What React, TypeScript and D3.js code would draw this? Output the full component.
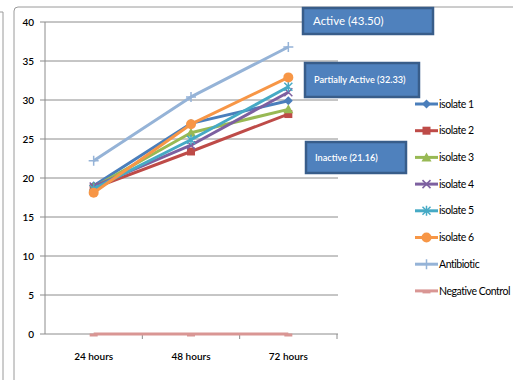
import React from "react";
import * as d3 from "d3";

const categories = ["24 hours", "48 hours", "72 hours"];
const seriesNames = ["isolate 1", "isolate 2", "isolate 3", "isolate 4", "isolate 5", "isolate 6", "Antibiotic", "Negative Control"];
const isolate1 = [19.0, 27.0, 29.9];
const isolate2 = [18.7, 23.4, 28.2];
const isolate3 = [18.8, 25.8, 28.8];
const isolate4 = [18.9, 24.2, 31.0];
const isolate5 = [18.6, 24.9, 31.7];
const isolate6 = [18.1, 26.9, 32.9];
const antibiotic = [22.2, 30.4, 36.8];
const negativeControl = [0, 0, 0];
const yTicks = [0, 5, 10, 15, 20, 25, 30, 35, 40];
const noteLabels = ["Active (43.50)", "Partially Active (32.33)", "Inactive (21.16)"];

const seriesValues = [isolate1, isolate2, isolate3, isolate4, isolate5, isolate6, antibiotic, negativeControl];
const colors = ["#4A7EBB", "#BE4B48", "#98B954", "#7D60A0", "#46AAC5", "#F79646", "#95B3D7", "#D99694"];
const markers = ["diamond", "square", "triangle", "x", "star", "circle", "plus", "dash"];

const FONT = "Lato, 'Liberation Sans', sans-serif";

function Marker({ kind, x, y, color }: { kind: string; x: number; y: number; color: string }) {
  const s = 4.5;
  switch (kind) {
    case "diamond":
      return <path d={`M${x},${y - s} L${x + s},${y} L${x},${y + s} L${x - s},${y} Z`} fill={color} />;
    case "square":
      return <rect x={x - 4} y={y - 4} width={8} height={8} fill={color} />;
    case "triangle":
      return <path d={`M${x},${y - 5} L${x + 5},${y + 4} L${x - 5},${y + 4} Z`} fill={color} />;
    case "x":
      return (
        <path d={`M${x - 4},${y - 4} L${x + 4},${y + 4} M${x - 4},${y + 4} L${x + 4},${y - 4}`} stroke={color} strokeWidth={1.5} />
      );
    case "star":
      return (
        <path
          d={`M${x - 4},${y - 4} L${x + 4},${y + 4} M${x - 4},${y + 4} L${x + 4},${y - 4} M${x},${y - 5} L${x},${y + 5}`}
          stroke={color}
          strokeWidth={1.5}
        />
      );
    case "circle":
      return <circle cx={x} cy={y} r={5} fill={color} />;
    case "plus":
      return <path d={`M${x - 5},${y} L${x + 5},${y} M${x},${y - 5} L${x},${y + 5}`} stroke={color} strokeWidth={1.5} />;
    case "dash":
      return <path d={`M${x - 4},${y + 1} L${x + 4},${y + 1}`} stroke={color} strokeWidth={3} />;
    default:
      return null;
  }
}

export default function App() {
  const W = 513;
  const H = 380;
  const left = 45;
  const right = 337;
  const top = 22;
  const bottom = 334;

  const x = d3.scaleBand<string>().domain(categories).range([left, right]);
  const y = d3.scaleLinear().domain([0, 40]).range([bottom, top]);
  const line = d3
    .line<number>()
    .x((_, i) => (x(categories[i]) as number) + x.bandwidth() / 2)
    .y((v) => y(v));

  const legendX = 415;
  const legendY0 = 104;
  const legendStep = 26.7;

  const boxes = [
    { x: 303, y: 8, w: 130, h: 26, size: 11.5, weight: 400 },
    { x: 305, y: 63, w: 114, h: 34, size: 9.2, weight: 600 },
    { x: 306, y: 142, w: 100, h: 31, size: 9.2, weight: 600 },
  ];

  return (
    <svg
      width={W}
      height={H}
      style={{ position: "absolute", left: 0, top: 0, background: "#fff" }}
      fontFamily={FONT}
    >
      {/* outer frames */}
      <path d="M0,12 L3,12 L3,380" fill="none" stroke="#9a9a9a" strokeWidth={1} />
      <path d={`M14,380 L14,11 Q14,7 18,7 L${W},7`} fill="none" stroke="#9a9a9a" strokeWidth={1} />

      {/* gridlines */}
      {yTicks.map((t) => (
        <line key={t} x1={left - 5} x2={right + 1} y1={y(t)} y2={y(t)} stroke="#8c8c8c" strokeWidth={1} />
      ))}
      {/* y axis */}
      <line x1={left} x2={left} y1={top} y2={bottom} stroke="#8c8c8c" />
      {yTicks.map((t) => (
        <text key={t} x={34} y={y(t)} dy="0.35em" textAnchor="end" fontSize={10} fontWeight={600} fill="#000">
          {t}
        </text>
      ))}
      {/* x axis ticks */}
      {categories.map((c) => (
        <line
          key={c}
          x1={(x(c) as number) + x.bandwidth()}
          x2={(x(c) as number) + x.bandwidth()}
          y1={bottom}
          y2={bottom + 5}
          stroke="#8c8c8c"
        />
      ))}
      {categories.map((c) => (
        <text
          key={c}
          x={(x(c) as number) + x.bandwidth() / 2}
          y={360}
          textAnchor="middle"
          fontSize={10}
          fontWeight={600}
          fill="#000"
        >
          {c}
        </text>
      ))}

      {/* series */}
      {seriesValues.map((vals, si) => (
        <g key={seriesNames[si]}>
          <path d={line(vals) || ""} fill="none" stroke={colors[si]} strokeWidth={3} strokeLinejoin="round" />
          {vals.map((v, i) => (
            <Marker
              key={i}
              kind={markers[si]}
              x={(x(categories[i]) as number) + x.bandwidth() / 2}
              y={y(v)}
              color={colors[si]}
            />
          ))}
        </g>
      ))}

      {/* annotation boxes */}
      {boxes.map((b, i) => (
        <g key={noteLabels[i]}>
          <rect x={b.x} y={b.y} width={b.w} height={b.h} fill="#4F81BD" stroke="#385D8A" strokeWidth={2.5} />
          <text
            x={b.x + (i === 0 ? 10 : 9)}
            y={b.y + b.h / 2}
            dy="0.35em"
            fontSize={b.size}
            fontWeight={b.weight}
            fill="#fff"
          >
            {noteLabels[i]}
          </text>
        </g>
      ))}

      {/* legend */}
      {seriesNames.map((name, si) => {
        const ly = legendY0 + si * legendStep;
        return (
          <g key={name}>
            <line x1={legendX} x2={legendX + 23} y1={ly} y2={ly} stroke={colors[si]} strokeWidth={3} />
            <Marker kind={markers[si]} x={legendX + 11.5} y={ly} color={colors[si]} />
            <text x={legendX + 24} y={ly} dy="0.35em" fontSize={10.5} letterSpacing={-0.45} fill="#000">
              {name}
            </text>
          </g>
        );
      })}
    </svg>
  );
}
